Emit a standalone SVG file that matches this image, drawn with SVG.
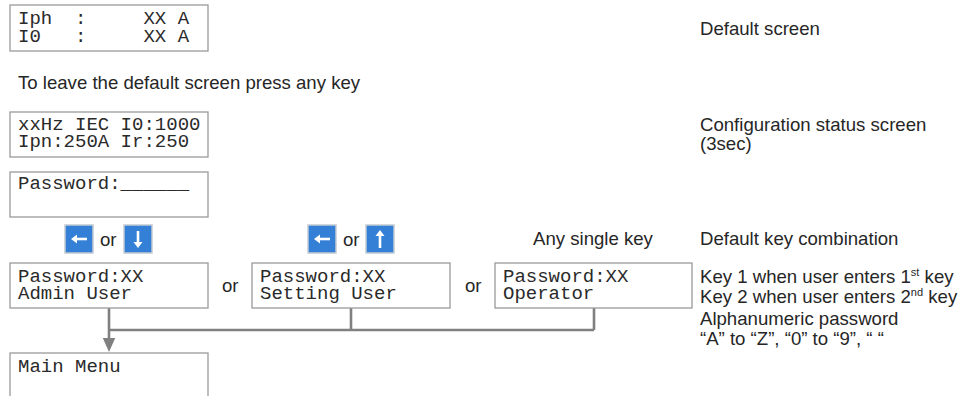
<svg xmlns="http://www.w3.org/2000/svg" width="973" height="396" viewBox="0 0 973 396">
<style>
.bg{fill:#ffffff}
.box{fill:#ffffff;stroke:#9a9a9a;stroke-width:1.3}
.mono{font-family:"Liberation Mono","DejaVu Sans Mono",monospace;font-size:19px;fill:#2a2a2a;white-space:pre}
.lbl{font-family:"Liberation Sans",Arial,sans-serif;font-size:18.6px;fill:#262626}
.conn{fill:none;stroke:#808080;stroke-width:2.6}
.key{fill:#3380d6;stroke:#c3cad2;stroke-width:1.5}
.karrow{fill:none;stroke:#ffffff;stroke-width:2.6}
.khead{fill:#ffffff}
</style>
<defs>
<marker id="arr" markerUnits="userSpaceOnUse" markerWidth="15" markerHeight="13" viewBox="0 0 15 13" refX="0.5" refY="6.5" orient="auto">
<path d="M0,0 L14.5,6.5 L0,13 z" fill="#808080"/>
</marker>
<g id="kLeft">
<rect class="key" x="0" y="0" width="28" height="28"/>
<path class="karrow" d="M11 14 H22"/>
<path class="khead" d="M6 14 L12 9.5 L12 18.5 z"/>
</g>
<g id="kDown">
<rect class="key" x="0" y="0" width="28" height="28"/>
<path class="karrow" d="M14 6 V17"/>
<path class="khead" d="M14 23 L9.5 17 L18.5 17 z"/>
</g>
<g id="kUp">
<rect class="key" x="0" y="0" width="28" height="28"/>
<path class="karrow" d="M14 11 V23"/>
<path class="khead" d="M14 5 L9.5 11 L18.5 11 z"/>
</g>
</defs>
<rect class="bg" x="0" y="0" width="973" height="396"/>

<g id="connectors">
<path class="conn" d="M109 308 V338" marker-end="url(#arr)"/>
<path class="conn" d="M109 330 H594"/>
<path class="conn" d="M351 308 V330"/>
<path class="conn" d="M594 308 V330"/>
</g>

<g id="default-screen">
<rect class="box" x="10" y="5" width="198" height="46"/>
<text class="mono" x="18" y="24">Iph  :     XX A</text>
<text class="mono" x="18" y="41.5">I0   :     XX A</text>
</g>
<text class="lbl" x="700" y="35">Default screen</text>

<text class="lbl" x="18" y="89">To leave the default screen press any key</text>

<g id="config-screen">
<rect class="box" x="10" y="112" width="198" height="45"/>
<text class="mono" x="18" y="129.5">xxHz IEC I0:1000</text>
<text class="mono" x="18" y="147">Ipn:250A Ir:250</text>
</g>
<text class="lbl" x="700" y="131">Configuration status screen</text>
<text class="lbl" x="700" y="150">(3sec)</text>

<g id="password-screen">
<rect class="box" x="10" y="172" width="198" height="45"/>
<text class="mono" x="18" y="188.5">Password:______</text>
</g>

<g id="keys-admin">
<use href="#kLeft" x="65" y="225"/>
<text class="lbl" x="100" y="246">or</text>
<use href="#kDown" x="124" y="225"/>
</g>
<g id="keys-setting">
<use href="#kLeft" x="308" y="225"/>
<text class="lbl" x="343" y="246">or</text>
<use href="#kUp" x="366" y="225"/>
</g>
<text class="lbl" x="533" y="245">Any single key</text>
<text class="lbl" x="700" y="245">Default key combination</text>

<g id="admin-user">
<rect class="box" x="10" y="263" width="198" height="45"/>
<text class="mono" x="18" y="281.5">Password:XX</text>
<text class="mono" x="18" y="299">Admin User</text>
</g>
<text class="lbl" x="222" y="292">or</text>

<g id="setting-user">
<rect class="box" x="252" y="263" width="198" height="45"/>
<text class="mono" x="260" y="281.5">Password:XX</text>
<text class="mono" x="260" y="299">Setting User</text>
</g>
<text class="lbl" x="465" y="292">or</text>

<g id="operator">
<rect class="box" x="495" y="263" width="197" height="45"/>
<text class="mono" x="503" y="281.5">Password:XX</text>
<text class="mono" x="503" y="299">Operator</text>
</g>

<text class="lbl" x="700" y="282.5">Key 1 when user enters 1<tspan dy="-7" font-size="11">st</tspan><tspan dy="7"> key</tspan></text>
<text class="lbl" x="700" y="302.5">Key 2 when user enters 2<tspan dy="-7" font-size="11">nd</tspan><tspan dy="7"> key</tspan></text>
<text class="lbl" x="700" y="324.5">Alphanumeric password</text>
<text class="lbl" x="700" y="344.5">“A” to “Z”, “0” to “9”, “ “</text>

<g id="main-menu">
<rect class="box" x="10" y="353" width="198" height="60"/>
<text class="mono" x="18" y="372">Main Menu</text>
</g>
</svg>
